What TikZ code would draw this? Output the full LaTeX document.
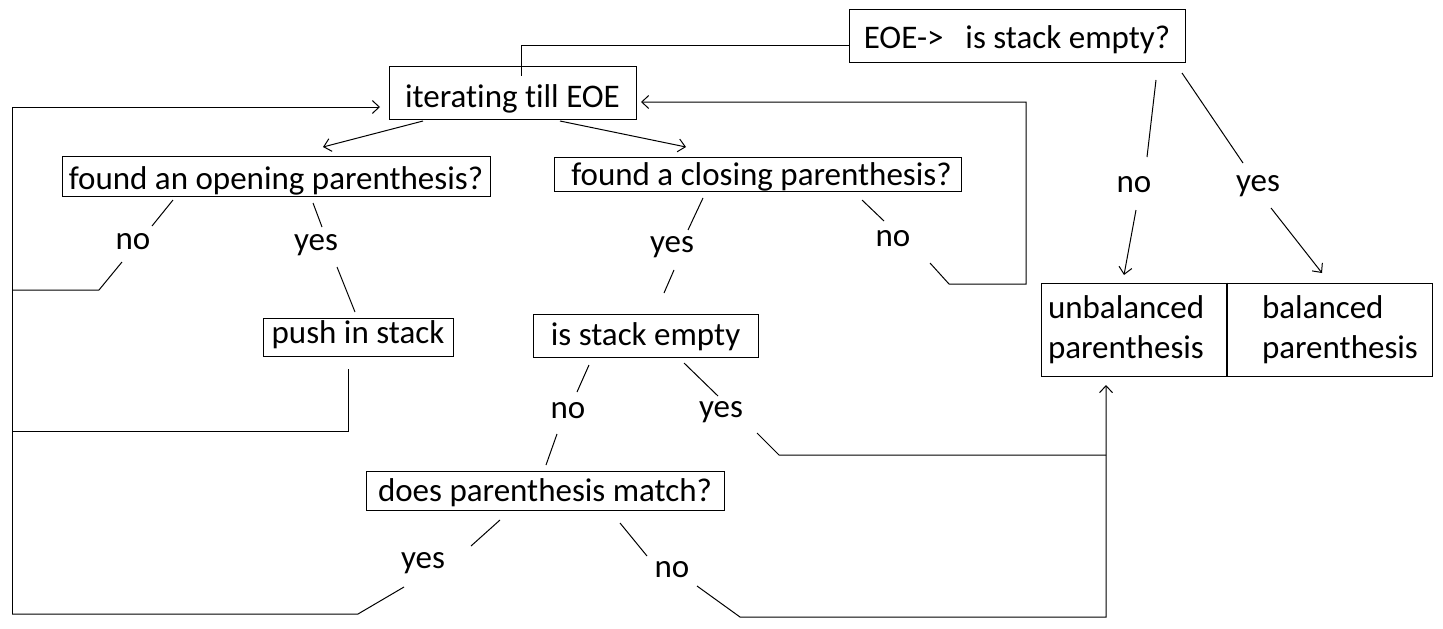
\documentclass[tikz,border=0pt]{standalone}
\usepackage{fontspec}
\setmainfont[Ligatures=NoCommon]{Carlito}
\usetikzlibrary{arrows.meta}
\begin{document}
\begin{tikzpicture}[x=1pt,y=-1pt,
  txt/.style={font=\fontsize{33}{40}\selectfont},
  box/.style={draw, line width=1pt, inner sep=0pt, txt},
  lbl/.style={inner sep=0pt, anchor=base, txt},
  conn/.style={line width=1pt},
  arr/.style={line width=1pt, -{Straight Barb[length=7pt,width=13pt]}}]
\useasboundingbox[fill=white] (0,0) rectangle (1443,629);
% boxes
\node[box, minimum width=336pt, minimum height=53pt, text height=32pt, text depth=6pt] (eoe) at (1017,35.5) {EOE->\hspace{22pt}is stack empty?};
\node[box, minimum width=247pt, minimum height=53pt, text height=34pt, text depth=6pt] (iter) at (512.5,93) {iterating till EOE};
\node[box, minimum width=428pt, minimum height=40pt, text height=32pt, text depth=6pt] (open) at (276,176) {found an opening parenthesis?};
\node[box, minimum width=407pt, minimum height=34pt, text height=27pt, text depth=6pt] (close) at (757.5,174.5) {\hspace{8pt}found a closing parenthesis?};
\node[box, minimum width=190pt, minimum height=38pt, text height=20pt, text depth=8pt] (push) at (358,337) {push in stack};
\node[box, minimum width=225pt, minimum height=43pt, text height=26pt, text depth=6pt] (empty) at (645.5,335.5) {is stack empty};
\node[box, minimum width=358pt, minimum height=39pt, text height=27pt, text depth=6pt] (match) at (545,490.5) {does parenthesis match?};
\node[box, minimum width=185pt, minimum height=93pt, text width=171pt, inner xsep=7pt, align=flush left] (unbal) at (1133.5,329.5) {unbalanced\\parenthesis};
\node[box, minimum width=206pt, minimum height=93pt, text width=190pt, inner xsep=8pt, align=flush left] (bal) at (1329,329.5) {\hspace*{28pt}balanced\\\hspace*{28pt}parenthesis};
\draw[line width=2pt] (unbal.north east) -- (unbal.south east);
% labels
\node[lbl] (no1) at (133,249) {no};
\node[lbl] (yes1) at (316,250) {yes};
\node[lbl] (yes2) at (672,252) {yes};
\node[lbl] (no2) at (893,246) {no};
\node[lbl] (no3) at (568,418) {no};
\node[lbl] (yes3) at (721,417) {yes};
\node[lbl] (yes4) at (423,568) {yes};
\node[lbl] (no4) at (672,577) {no};
\node[lbl] (no5) at (1134,192) {no};
\node[lbl] (yes5) at (1258,191) {yes};
% connectors
\draw[conn] ([yshift=-9.5pt]eoe.west) -| ([xshift=8.5pt,yshift=-10pt]iter.north);
\draw[arr] (423,121) -- (323,147);
\draw[arr] (560,121) -- (686,147);
\draw[conn] (173,200) -- (152,226);
\draw[conn] (122,262) -- (99,290) -- (12,290);
\draw[conn] (313,203) -- (322,227);
\draw[conn] (337,267) -- (355,312);
\draw[conn] (348,369) -- (348,431) -- (12,431);
\draw[conn] (703,198) -- (688,230);
\draw[conn] (674,270) -- (664,293);
\draw[conn] (862,200) -- (884,221);
\draw[arr] (930,263) -- (949,284) -- (1026,284) -- (1026,102) -- (641,102);
\draw[conn] (589,365) -- (577,392);
\draw[conn] (557,434) -- (546,465);
\draw[conn] (684,363) -- (718,396);
\draw[conn] (757,433) -- (779,455) -- (1106,455);
\draw[conn] (500,520) -- (471,546);
\draw[conn] (404,587) -- (358,614) -- (12,614);
\draw[conn] (620,523) -- (647,556);
\draw[arr] (697,586) -- (740,617) -- (1106,617) -- (1106,385);
\draw[arr] (12,614) -- (12,107) -- (380,107);
\draw[conn] (1156,80) -- (1147,157);
\draw[arr] (1136,210) -- (1124,275);
\draw[conn] (1182,73) -- (1243,163);
\draw[arr] (1271,208) -- (1322,273);
\end{tikzpicture}
\end{document}
